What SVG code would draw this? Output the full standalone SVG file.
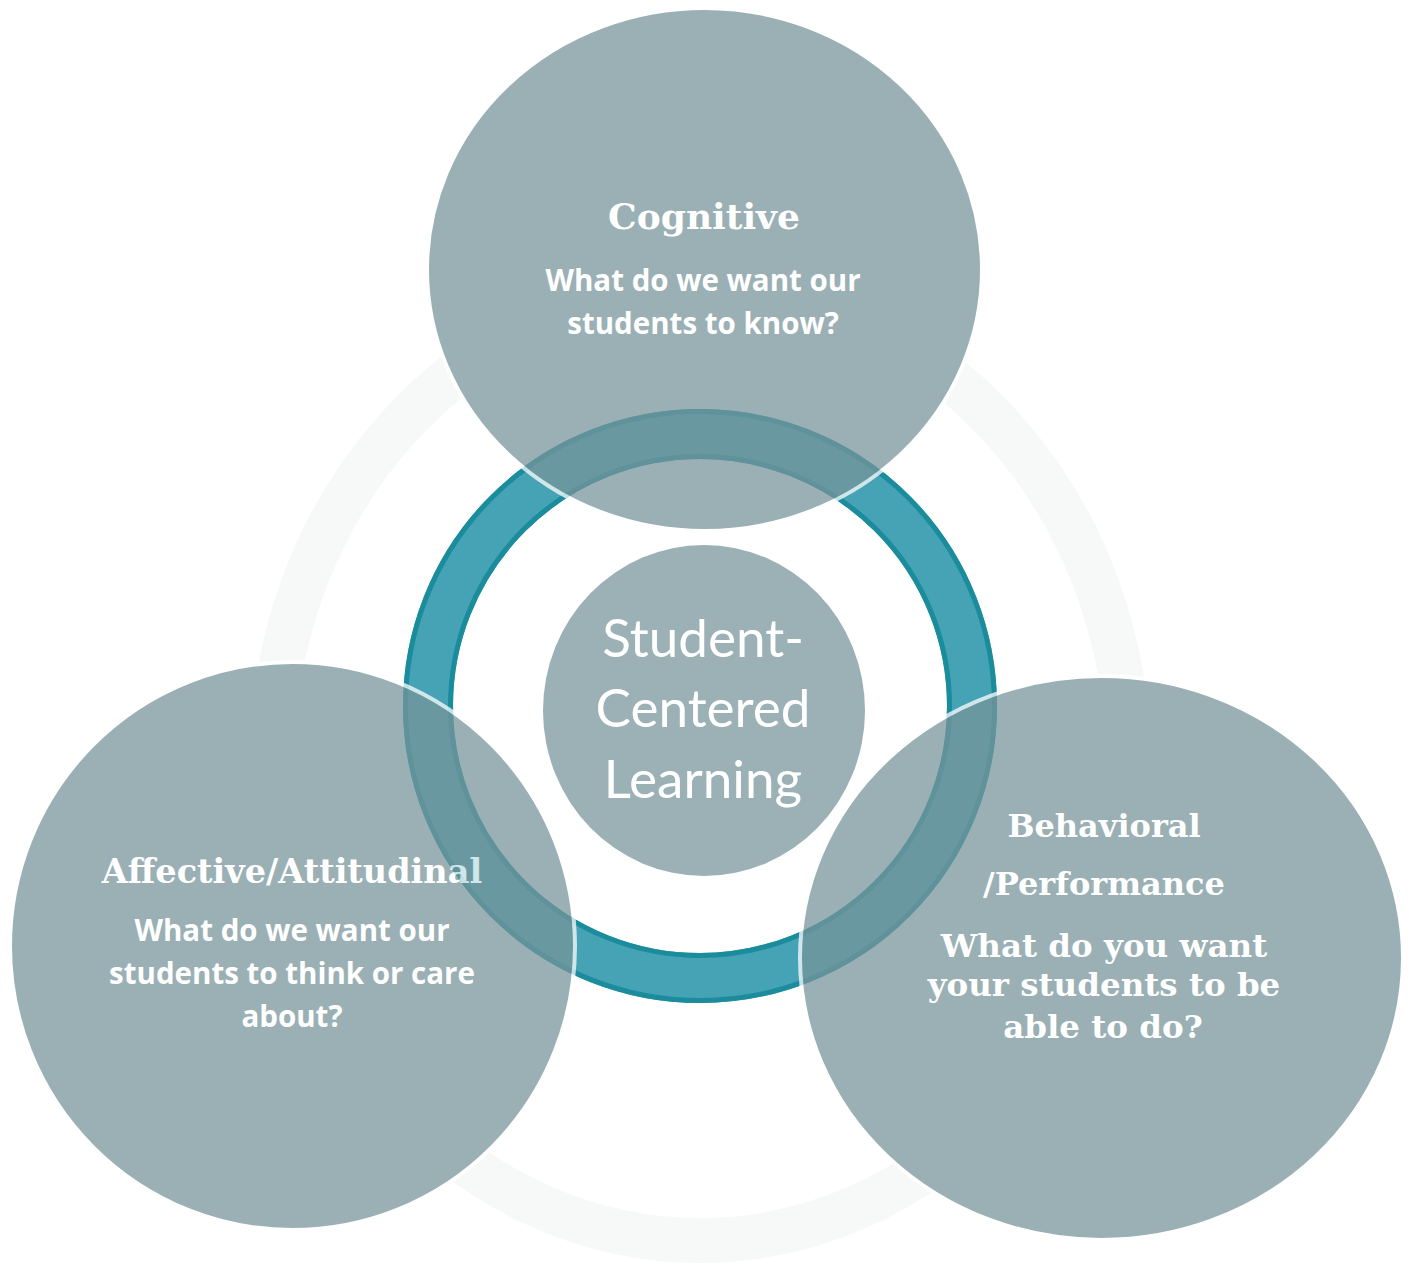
<svg xmlns="http://www.w3.org/2000/svg" width="1411" height="1264" viewBox="0 0 1411 1264">
<style>
.faint{fill:none;stroke:#F7F9F9;stroke-width:45}
.cover{fill:#fff}
.band{fill:none;stroke:#45A3B5;stroke-width:50}
.edge{fill:none;stroke:#1A8C9C;stroke-width:5}
.node{opacity:0.74}
.disc{fill:rgb(119,149,155);stroke:#fff;stroke-width:4}
.head{font-family:"DejaVu Serif","Liberation Serif",serif;font-weight:bold;fill:#fff;text-anchor:middle}
.body{font-family:"Open Sans",Lato,sans-serif;font-weight:bold;fill:#fff;text-anchor:middle;font-size:29.5px}
.center{fill:#9BB1B5}
.ctext{font-family:Lato,"Open Sans",sans-serif;fill:#fff;text-anchor:middle;font-size:53px}
</style>
<rect width="1411" height="1264" fill="#fff"/>
<g id="rings">
  <ellipse class="faint" cx="700" cy="765" rx="428.5" ry="475.5"/>
  <ellipse class="cover" cx="704.5" cy="269.5" rx="279" ry="263"/>
  <ellipse class="cover" cx="292.5" cy="946" rx="284" ry="285.5"/>
  <ellipse class="cover" cx="1101.5" cy="958" rx="303" ry="283.5"/>
  <circle class="band" cx="700" cy="706" r="272"/>
  <circle class="edge" cx="700" cy="706" r="294.5"/>
  <circle class="edge" cx="700" cy="706" r="249.5"/>
</g>
<g id="node-cognitive" class="node">
  <ellipse class="disc" cx="704.5" cy="269.5" rx="277.5" ry="261.5"/>
  <text class="head" x="704" y="229" font-size="36">Cognitive</text>
  <text class="body" x="703" y="291">What do we want our</text>
  <text class="body" x="703" y="334">students to know?</text>
</g>
<g id="node-affective" class="node">
  <ellipse class="disc" cx="292.5" cy="946" rx="282.5" ry="284"/>
  <text class="head" x="292" y="883" font-size="33.5">Affective/Attitudinal</text>
  <text class="body" x="292" y="941">What do we want our</text>
  <text class="body" x="292" y="984">students to think or care</text>
  <text class="body" x="292" y="1027">about?</text>
</g>
<g id="node-behavioral" class="node">
  <ellipse class="disc" cx="1101.5" cy="958" rx="301.5" ry="282"/>
  <text class="head" x="1104" y="837" font-size="32">Behavioral</text>
  <text class="head" x="1104" y="895" font-size="32">/Performance</text>
  <text class="head" x="1104" y="957" font-size="32.5">What do you want</text>
  <text class="head" x="1104" y="996" font-size="32.5">your students to be</text>
  <text class="head" x="1103" y="1038" font-size="32.5">able to do?</text>
</g>
<g id="node-center">
  <ellipse class="center" cx="704" cy="710.5" rx="161" ry="165.5"/>
  <text class="ctext" x="703" y="657">Student-</text>
  <text class="ctext" x="703" y="727">Centered</text>
  <text class="ctext" x="703" y="798">Learning</text>
</g>
</svg>
